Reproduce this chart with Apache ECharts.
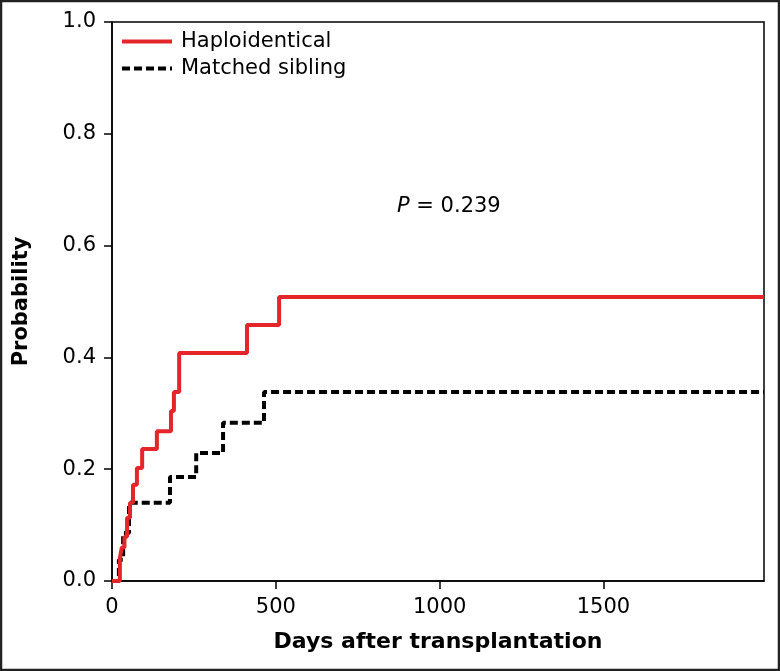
<!DOCTYPE html>
<html>
<head>
<meta charset="utf-8">
<script src="https://cdn.jsdelivr.net/npm/echarts@6/dist/echarts.min.js"></script>
<style>
html,body{margin:0;padding:0;background:#fff;}
#chart{width:780px;height:671px;}
</style>
</head>
<body>
<div id="chart"></div>
<script>
// Haploidentical (red, solid) step curve
const haploDays = [0, 24, 30, 38, 46, 55, 64, 76, 92, 137, 180, 189, 205, 412, 510, 1990];
const haploProb = [0, 0.041, 0.060, 0.079, 0.113, 0.140, 0.172, 0.202, 0.236, 0.268, 0.304, 0.338, 0.408, 0.458, 0.508, 0.508];
// Matched sibling (black, dashed) step curve
const sibDays = [0, 21, 34, 52, 177, 257, 339, 464, 1990];
const sibProb = [0, 0.038, 0.086, 0.140, 0.186, 0.229, 0.283, 0.338, 0.338];

const xTicks = [0, 500, 1000, 1500];
const yTicks = [0, 0.2, 0.4, 0.6, 0.8, 1.0];
const seriesNames = ['Haploidentical', 'Matched sibling'];
const pText = '{i|P} = 0.239';

const toPairs = (xs, ys) => xs.map((x, i) => [x, ys[i]]);

const chart = echarts.init(document.getElementById('chart'), null, {renderer: 'canvas'});
const regFont = 'DejaVu Sans';
chart.setOption({
  animation: false,
  backgroundColor: '#fff',
  grid: {left: 112, top: 22, right: 16, bottom: 90, show: true, borderColor: '#000', borderWidth: 1.5, backgroundColor: 'transparent'},
  legend: {
    left: 120, top: 31, orient: 'vertical', itemWidth: 50, itemHeight: 22, itemGap: 6, padding: 0,
    itemStyle: {opacity: 0},
    lineStyle: {width: 4},
    textStyle: {fontFamily: regFont, fontSize: 21, color: '#000', padding: [0, 0, 0, 4]},
    data: seriesNames
  },
  xAxis: {
    type: 'value', min: 0, max: 1990, interval: 500,
    name: 'Days after transplantation', nameLocation: 'middle', nameGap: 50,
    nameTextStyle: {fontFamily: regFont, fontWeight: 'bold', fontSize: 22, color: '#000'},
    axisLine: {show: true, onZero: false, lineStyle: {color: '#000', width: 1.5}},
    axisTick: {show: true, length: 8, lineStyle: {color: '#000', width: 1.5}, customValues: xTicks},
    axisLabel: {fontFamily: regFont, fontSize: 21, color: '#000', margin: 16, customValues: xTicks,
      formatter: v => String(v)},
    splitLine: {show: false}
  },
  yAxis: {
    type: 'value', min: 0, max: 1, interval: 0.2,
    name: 'Probability', nameLocation: 'middle', nameGap: 80,
    nameTextStyle: {fontFamily: regFont, fontWeight: 'bold', fontSize: 21, color: '#000'},
    axisLine: {show: true, lineStyle: {color: '#000', width: 1.5}},
    axisTick: {show: true, length: 8, lineStyle: {color: '#000', width: 1.5}, customValues: yTicks},
    axisLabel: {fontFamily: regFont, fontSize: 21, color: '#000', margin: 16, customValues: yTicks,
      formatter: v => v.toFixed(1)},
    splitLine: {show: false}
  },
  series: [
    {
      name: seriesNames[0], type: 'line', step: 'end', symbol: 'none', z: 3,
      data: toPairs(haploDays, haploProb),
      lineStyle: {color: '#e4262b', width: 4, type: 'solid'},
      itemStyle: {color: '#e4262b'}
    },
    {
      name: seriesNames[1], type: 'line', step: 'end', symbol: 'none', z: 2,
      data: toPairs(sibDays, sibProb),
      lineStyle: {color: '#000', width: 4, type: [8, 4]},
      itemStyle: {color: '#000'}
    }
  ],
  graphic: [
    {type: 'rect', shape: {x: 1, y: 1, width: 778, height: 669}, style: {fill: 'none', stroke: '#222', lineWidth: 2.5}, silent: true},
    {type: 'text', x: 397, y: 207, style: {
      text: pText, fontFamily: regFont, fontSize: 21, fill: '#000', verticalAlign: 'middle',
      rich: {i: {fontFamily: regFont, fontSize: 21, fontStyle: 'italic', fill: '#000'}}
    }}
  ]
});
</script>
</body>
</html>
